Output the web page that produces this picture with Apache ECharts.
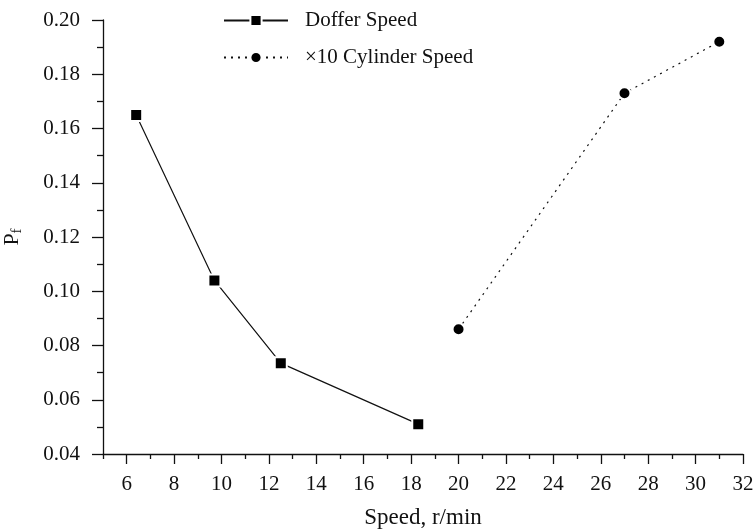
<!DOCTYPE html>
<html>
<head>
<meta charset="utf-8">
<script src="https://cdn.jsdelivr.net/npm/echarts@6/dist/echarts.min.js"></script>
<style>
  html, body { margin: 0; padding: 0; background: #fff; }
  #main { width: 755px; height: 529px; }
</style>
</head>
<body>
<div id="main"></div>
<script>
// doffer speed series
var dofferSpeed = [6.4, 9.7, 12.5, 18.3];
var dofferPf = [0.165, 0.104, 0.0735, 0.051];
// cylinder speed (x10) series
var cylinderSpeed = [20, 27, 31];
var cylinderPf = [0.086, 0.173, 0.192];

var xMajorTicks = [6, 8, 10, 12, 14, 16, 18, 20, 22, 24, 26, 28, 30, 32];
var xMinorTicks = [5, 7, 9, 11, 13, 15, 17, 19, 21, 23, 25, 27, 29, 31];

var font = 'Liberation Serif';
var ink = '#111';

function pairs(xs, ys) {
    var out = [];
    for (var i = 0; i < xs.length; i++) {
        out.push([xs[i], ys[i]]);
    }
    return out;
}

var myChart = echarts.init(document.getElementById('main'));

var option = {
    backgroundColor: '#fff',
    animation: false,
    textStyle: { fontFamily: font, color: ink },
    grid: { left: 103, right: 12, top: 20, bottom: 75, outerBoundsMode: 'none' },
    legend: {
        orient: 'vertical',
        left: 218,
        top: 5,
        itemWidth: 64,
        itemHeight: 14,
        itemGap: 16,
        textStyle: { fontFamily: font, fontSize: 21, color: ink, padding: [0, 0, 0, 12] },
        data: ['Doffer Speed', '\u00d710 Cylinder Speed']
    },
    xAxis: [{
        type: 'value',
        min: 5,
        max: 32,
        name: 'Speed, r/min',
        nameLocation: 'middle',
        nameGap: 52,
        nameTextStyle: { fontFamily: font, fontSize: 23, color: ink },
        splitLine: { show: false },
        axisLine: { lineStyle: { color: ink, width: 1.3 } },
        axisTick: { customValues: xMajorTicks, length: 10, lineStyle: { color: ink, width: 1.3 } },
        axisLabel: { customValues: xMajorTicks, margin: 20, fontSize: 21, color: ink, fontFamily: font }
    }, {
        type: 'value',
        min: 5,
        max: 32,
        position: 'bottom',
        splitLine: { show: false },
        axisLine: { show: false },
        axisTick: { customValues: xMinorTicks, length: 5, lineStyle: { color: ink, width: 1.3 } },
        axisLabel: { show: false }
    }],
    yAxis: {
        type: 'value',
        min: 0.04,
        max: 0.20,
        interval: 0.02,
        name: '{a|P}{b|f}',
        nameLocation: 'middle',
        nameGap: 78,
        nameTextStyle: {
            fontFamily: font,
            color: ink,
            rich: {
                a: { fontSize: 22, fontFamily: font, color: ink },
                b: { fontSize: 15, fontFamily: font, color: ink, padding: [10, 0, 0, 0] }
            }
        },
        splitLine: { show: false },
        axisLine: { show: true, lineStyle: { color: ink, width: 1.3 } },
        axisTick: { show: true, length: 11, lineStyle: { color: ink, width: 1.3 } },
        minorTick: { show: true, splitNumber: 2, length: 6, lineStyle: { color: ink, width: 1.3 } },
        axisLabel: {
            margin: 23,
            fontSize: 21,
            color: ink,
            fontFamily: font,
            formatter: function (v) { return v.toFixed(2); }
        }
    },
    series: [{
        name: 'Doffer Speed',
        type: 'line',
        data: pairs(dofferSpeed, dofferPf),
        symbol: 'rect',
        symbolSize: 12,
        lineStyle: { color: ink, width: 1.2 },
        itemStyle: { color: '#000', borderColor: '#fff', borderWidth: 2 }
    }, {
        name: '\u00d710 Cylinder Speed',
        type: 'line',
        data: pairs(cylinderSpeed, cylinderPf),
        symbol: 'circle',
        symbolSize: 12,
        lineStyle: { color: ink, width: 1.2, type: [2, 5] },
        itemStyle: { color: '#000', borderColor: '#fff', borderWidth: 2 }
    }]
};
myChart.setOption(option);
</script>
</body>
</html>
